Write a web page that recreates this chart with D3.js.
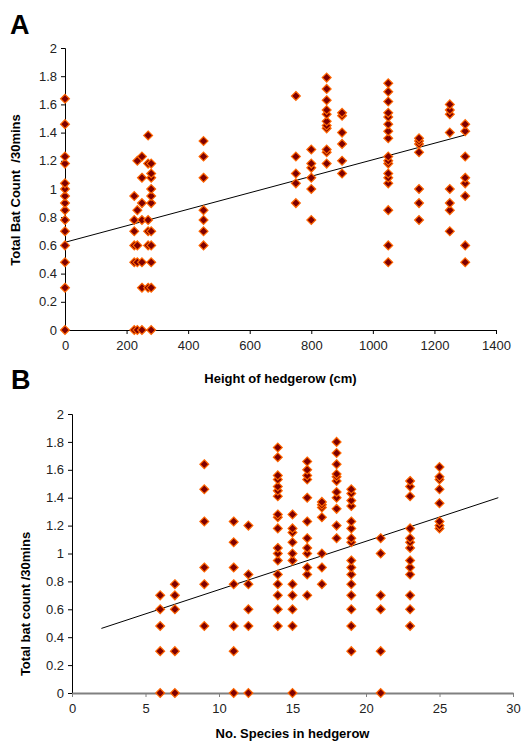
<!DOCTYPE html>
<html>
<head>
<meta charset="utf-8">
<script src="https://cdnjs.cloudflare.com/ajax/libs/d3/7.8.5/d3.min.js"></script>
<style>
  body { margin: 0; background: #fff; }
  svg text { font-family: "Liberation Sans", Arial, sans-serif; }
</style>
</head>
<body>
<div id="container"></div>
<script>
/*
    Panel A data: height of hedgerow (cm) -> bat counts at that height
*/
var heights = [0, 225, 235, 250, 270, 280, 450, 750, 800, 850, 900, 1050, 1150, 1250, 1300];
var countsByHeight = [
    [0, 0.30, 0.48, 0.60, 0.70, 0.78, 0.85, 0.90, 0.95, 1.0, 1.04, 1.18, 1.23, 1.46, 1.64],
    [0, 0.48, 0.60, 0.70, 0.78, 0.95],
    [0, 0.48, 0.60, 0.85, 1.20],
    [0, 0.30, 0.48, 0.78, 0.90, 1.08, 1.23],
    [0.30, 0.60, 0.70, 0.78, 1.18, 1.38],
    [0, 0.30, 0.48, 0.60, 0.70, 0.90, 0.95, 1.0, 1.08, 1.11, 1.18],
    [0.60, 0.70, 0.78, 0.85, 1.08, 1.23, 1.34],
    [0.90, 1.04, 1.11, 1.23, 1.66],
    [0.78, 1.0, 1.08, 1.15, 1.18, 1.28],
    [1.18, 1.26, 1.28, 1.43, 1.45, 1.48, 1.53, 1.56, 1.63, 1.71, 1.79],
    [1.11, 1.20, 1.32, 1.40, 1.52, 1.54],
    [0.48, 0.60, 0.85, 1.04, 1.08, 1.11, 1.18, 1.20, 1.23, 1.36, 1.41, 1.46, 1.51, 1.54, 1.62, 1.69, 1.75],
    [0.78, 0.90, 1.0, 1.26, 1.32, 1.34, 1.36],
    [0.70, 0.85, 0.90, 1.0, 1.40, 1.53, 1.56, 1.60],
    [0.48, 0.60, 0.95, 1.04, 1.08, 1.23, 1.41, 1.46]
];
var trendA = [[0, 0.622], [1300, 1.383]];

/*
    Panel B data: number of species in hedgerow -> bat counts
*/
var species = [6, 7, 9, 11, 12, 14, 15, 16, 17, 18, 19, 21, 23, 25];
var countsBySpecies = [
    [0, 0.30, 0.48, 0.60, 0.70],
    [0, 0.30, 0.60, 0.70, 0.78],
    [0.48, 0.78, 0.90, 1.23, 1.46, 1.64],
    [0, 0.30, 0.48, 0.78, 0.90, 1.08, 1.23],
    [0, 0.48, 0.60, 0.78, 0.85, 1.20],
    [0.48, 0.60, 0.70, 0.78, 0.85, 0.95, 1.0, 1.04, 1.18, 1.26, 1.28, 1.41, 1.45, 1.48, 1.53, 1.56, 1.69, 1.76],
    [0, 0.48, 0.60, 0.70, 0.78, 0.95, 1.0, 1.08, 1.15, 1.18, 1.28],
    [0.70, 0.85, 0.90, 1.0, 1.04, 1.11, 1.23, 1.40, 1.53, 1.56, 1.60, 1.66],
    [0.78, 0.90, 1.0, 1.26, 1.33, 1.35, 1.37],
    [1.11, 1.20, 1.32, 1.40, 1.44, 1.52, 1.55, 1.57, 1.64, 1.72, 1.80],
    [0.30, 0.48, 0.60, 0.70, 0.78, 0.85, 0.90, 0.95, 1.08, 1.11, 1.18, 1.23, 1.34, 1.38, 1.43, 1.46],
    [0, 0.30, 0.60, 0.70, 1.0, 1.11],
    [0.48, 0.60, 0.70, 0.85, 0.90, 0.95, 1.04, 1.08, 1.11, 1.18, 1.41, 1.48, 1.52],
    [1.18, 1.20, 1.23, 1.36, 1.46, 1.53, 1.55, 1.62]
];
var trendB = [[2, 0.463], [29, 1.40]];

var yTicks = [0, 0.2, 0.4, 0.6, 0.8, 1, 1.2, 1.4, 1.6, 1.8, 2];

var width = 521, height = 743;

var svg = d3.select("#container").append("svg")
    .attr("width", width)
    .attr("height", height);

/*
    flatten x categories + value lists into points
*/
function toPoints(xs, lists) {
    var pts = [];
    xs.forEach(function (x, i) {
        lists[i].forEach(function (v) { pts.push([x, v]); });
    });
    return pts;
}

var diamond = d3.symbol().type(d3.symbolDiamond2).size(50);

function drawPanel(opts) {
    var x = d3.scaleLinear().domain(opts.xDomain).range([opts.left, opts.right]);
    var y = d3.scaleLinear().domain([0, 2]).range([opts.bottom, opts.top]);
    var g = svg.append("g");

    // y axis
    var yAxis = g.append("g")
        .attr("transform", "translate(" + opts.left + ",0)")
        .call(d3.axisLeft(y).tickValues(yTicks).tickSize(4).tickPadding(4)
            .tickFormat(function (d) { return String(+d.toFixed(1)); }));
    yAxis.select(".domain").attr("stroke", "#000");
    yAxis.selectAll("text").attr("font-size", 13).attr("fill", "#222");

    // x axis
    var xAxis = g.append("g")
        .attr("transform", "translate(0," + opts.bottom + ")")
        .call(d3.axisBottom(x).tickValues(opts.xTicks).tickSize(4).tickPadding(7).tickSizeOuter(0)
            .tickFormat(d3.format("d")));
    xAxis.select(".domain").attr("stroke", opts.xAxisColor).attr("stroke-width", opts.xAxisWidth);
    xAxis.selectAll(".tick line").attr("stroke", opts.xAxisColor);
    xAxis.selectAll("text").attr("font-size", 13).attr("fill", "#222");

    // trend line
    g.append("line")
        .attr("x1", x(opts.trend[0][0])).attr("y1", y(opts.trend[0][1]))
        .attr("x2", x(opts.trend[1][0])).attr("y2", y(opts.trend[1][1]))
        .attr("stroke", "#000").attr("stroke-width", 1);

    // points
    g.selectAll(".pt")
        .data(opts.points)
        .enter().append("path")
        .attr("class", "pt")
        .attr("d", diamond)
        .attr("transform", function (d) { return "translate(" + x(d[0]) + "," + y(d[1]) + ")"; })
        .attr("fill", "#800000")
        .attr("stroke", "#ff6600")
        .attr("stroke-width", 1.2);

    // axis titles
    g.append("text")
        .attr("x", (opts.left + opts.right) / 2)
        .attr("y", opts.xLabelY)
        .attr("text-anchor", "middle")
        .attr("font-size", 13).attr("font-weight", "bold")
        .text(opts.xLabel);

    g.append("text")
        .attr("transform", "translate(" + opts.yLabelX + "," + opts.yLabelY + ") rotate(-90)")
        .attr("text-anchor", "middle")
        .attr("dominant-baseline", "middle")
        .attr("font-size", 13).attr("font-weight", "bold")
        .style("white-space", "pre")
        .text(opts.yLabel);

    // panel letter
    g.append("text")
        .attr("x", opts.letterX).attr("y", opts.letterY)
        .attr("font-size", 27).attr("font-weight", "bold")
        .text(opts.letter);
}

drawPanel({
    letter: "A", letterX: 10, letterY: 34,
    xDomain: [0, 1400], xTicks: d3.range(0, 1401, 200),
    left: 65, right: 496, top: 48, bottom: 330,
    points: toPoints(heights, countsByHeight),
    trend: trendA,
    xAxisColor: "#000", xAxisWidth: 1,
    xLabel: "Height of hedgerow (cm)", xLabelY: 383,
    yLabel: "Total Bat Count  /30mins", yLabelX: 17, yLabelY: 190
});

drawPanel({
    letter: "B", letterX: 11, letterY: 389,
    xDomain: [0, 30], xTicks: d3.range(0, 31, 5),
    left: 72, right: 513, top: 414, bottom: 693,
    points: toPoints(species, countsBySpecies),
    trend: trendB,
    xAxisColor: "#808080", xAxisWidth: 2,
    xLabel: "No. Species in hedgerow", xLabelY: 738,
    yLabel: "Total bat count /30mins", yLabelX: 27, yLabelY: 604
});
</script>
</body>
</html>
